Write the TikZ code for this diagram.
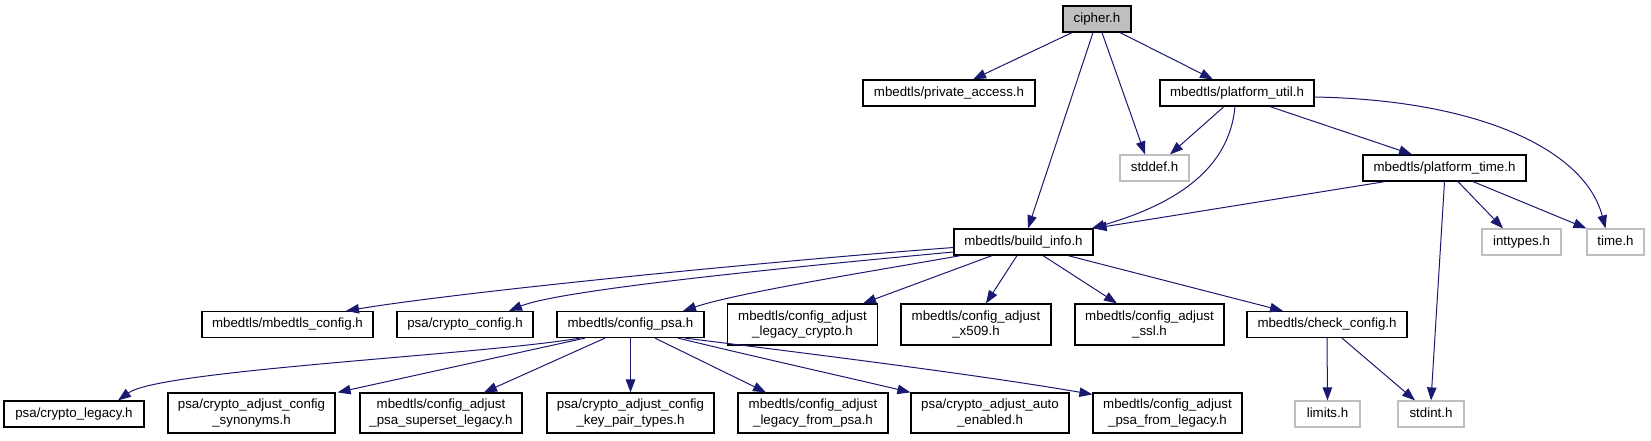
\documentclass[tikz,border=0pt]{standalone}
\usepackage{fontspec}
\setmainfont{Liberation Sans}
\usetikzlibrary{arrows.meta}
\definecolor{edgeblue}{HTML}{191970}
\definecolor{graybd}{HTML}{BFBFBF}
\begin{document}
\begin{tikzpicture}[x=1pt,y=-1pt,
  box/.style={draw=black, line width=1.2pt, fill=white, inner sep=0pt, align=center,
    font=\fontsize{13.3}{15.5}\selectfont},
  sysbox/.style={box, draw=graybd},
  root/.style={box, fill=graybd},
  one/.style={text height=9.6pt, text depth=2.8pt},
  wh/.style 2 args={minimum width=#1pt, minimum height=#2pt},
  dep/.style={draw=edgeblue, line width=1pt, -{Triangle[length=13pt,width=9.5pt]}}
]
\useasboundingbox (0,0) rectangle (1651,440);

% row 0
\node[root,one,wh={68}{26}] (cipher) at (1097,19) {cipher.h};
% row 1
\node[box,one,wh={172}{26}] (pa) at (949,93) {mbedtls/private\_access.h};
\node[box,one,wh={154}{26}] (pu) at (1237,93) {mbedtls/platform\_util.h};
% row 2
\node[sysbox,one,wh={69}{26}] (stddef) at (1154.5,168) {stddef.h};
\node[box,one,wh={163}{26}] (pt) at (1444.5,168) {mbedtls/platform\_time.h};
% row 3
\node[box,one,wh={139}{26}] (bi) at (1023.5,242) {mbedtls/build\_info.h};
\node[sysbox,one,wh={79}{26}] (inttypes) at (1521.5,242) {inttypes.h};
\node[sysbox,one,wh={57}{26}] (time) at (1615.5,242) {time.h};
% row 4
\node[box,one,wh={171}{26}] (mc) at (287.5,324.5) {mbedtls/mbedtls\_config.h};
\node[box,one,wh={136}{26}] (cc) at (465,324.5) {psa/crypto\_config.h};
\node[box,one,wh={147}{26}] (psa) at (630.5,324.5) {mbedtls/config\_psa.h};
\node[box,wh={150}{41}] (lc) at (802.5,324.5) {mbedtls/config\_adjust\\\_legacy\_crypto.h};
\node[box,wh={150}{41}] (x509) at (976,324.5) {mbedtls/config\_adjust\\\_x509.h};
\node[box,wh={149}{41}] (ssl) at (1149.5,324.5) {mbedtls/config\_adjust\\\_ssl.h};
\node[box,one,wh={160}{26}] (chk) at (1327,324.5) {mbedtls/check\_config.h};
% row 5
\node[box,one,wh={140}{26}] (cl) at (74,414) {psa/crypto\_legacy.h};
\node[box,wh={167}{40}] (syn) at (251.5,413) {psa/crypto\_adjust\_config\\\_synonyms.h};
\node[box,wh={162}{40}] (sup) at (441,413) {mbedtls/config\_adjust\\\_psa\_superset\_legacy.h};
\node[box,wh={167}{40}] (kp) at (630.5,413) {psa/crypto\_adjust\_config\\\_key\_pair\_types.h};
\node[box,wh={150}{40}] (lfp) at (813,413) {mbedtls/config\_adjust\\\_legacy\_from\_psa.h};
\node[box,wh={158}{40}] (auto) at (990,413) {psa/crypto\_adjust\_auto\\\_enabled.h};
\node[box,wh={149}{40}] (pfl) at (1167.5,413) {mbedtls/config\_adjust\\\_psa\_from\_legacy.h};
\node[sysbox,one,wh={65}{26}] (limits) at (1327.5,414) {limits.h};
\node[sysbox,one,wh={66}{26}] (stdint) at (1431,414) {stdint.h};

% edges from cipher.h
\draw[dep] ([xshift=-25pt]cipher.south) -- ([xshift=24pt]pa.north);
\draw[dep] ([xshift=-4pt]cipher.south) -- ([xshift=4.5pt]bi.north);
\draw[dep] ([xshift=5pt]cipher.south) -- ([xshift=-9.5pt]stddef.north);
\draw[dep] ([xshift=23pt]cipher.south) -- ([xshift=-24pt]pu.north);
% platform_util
\draw[dep] ([xshift=-13pt]pu.south) -- ([xshift=15.5pt]stddef.north);
\draw[dep] ([xshift=-2pt]pu.south) .. controls (1230,160) and (1190,200) .. ([xshift=-2pt]bi.north east);
\draw[dep] ([xshift=33pt]pu.south) -- ([xshift=-32.5pt]pt.north);
\draw[dep] ([yshift=-4pt]pu.east) .. controls (1480,100) and (1585,150) .. ([xshift=-10pt]time.north);
% platform_time
\draw[dep] ([xshift=-59.5pt]pt.south) -- (bi.north east);
\draw[dep] ([xshift=13.5pt]pt.south) -- ([xshift=-18.5pt]inttypes.north);
\draw[dep] ([xshift=28.5pt]pt.south) -- (time.north west);
\draw[dep] (pt.south) -- (stdint.north);
% build_info
\draw[dep] ([yshift=-5.5pt]bi.west) .. controls (760,262) and (460,292) .. ([xshift=58.5pt]mc.north);
\draw[dep] ([yshift=-10pt]bi.west) .. controls (780,268) and (560,290) .. ([xshift=44pt]cc.north);
\draw[dep] ([xshift=7pt]bi.south west) .. controls (880,270) and (740,292) .. ([xshift=52.5pt]psa.north);
\draw[dep] ([xshift=-31.5pt]bi.south) -- ([xshift=60.5pt]lc.north);
\draw[dep] ([xshift=-6.5pt]bi.south) -- ([xshift=10pt]x509.north);
\draw[dep] ([xshift=19.5pt]bi.south) -- ([xshift=-32.5pt]ssl.north);
\draw[dep] ([xshift=44.5pt]bi.south) -- ([xshift=-44pt]chk.north);
% check_config
\draw[dep] (chk.south) -- (limits.north);
\draw[dep] ([xshift=15pt]chk.south) -- ([xshift=-16pt]stdint.north);
% config_psa
\draw[dep] ([xshift=-50.5pt]psa.south) .. controls (480,355) and (160,370) .. ([xshift=44pt]cl.north);
\draw[dep] ([xshift=-45.5pt]psa.south) -- ([xshift=2pt]syn.north east);
\draw[dep] ([xshift=-25.5pt]psa.south) -- ([xshift=43pt]sup.north);
\draw[dep] (psa.south) -- (kp.north);
\draw[dep] ([xshift=24.5pt]psa.south) -- ([xshift=-47pt]lfp.north);
\draw[dep] ([xshift=47.5pt]psa.south) .. controls (760,358) and (850,378) .. (auto.north west);
\draw[dep] ([xshift=54.5pt]psa.south) .. controls (820,355) and (980,375) .. ([yshift=-2pt]pfl.north west);
\end{tikzpicture}
\end{document}
